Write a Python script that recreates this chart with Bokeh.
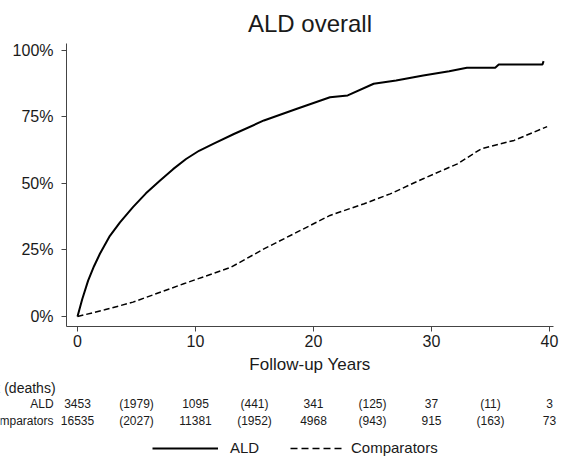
from bokeh.plotting import figure
from bokeh.layouts import column
from bokeh.core.properties import value
from bokeh.models import (ColumnDataSource, LabelSet, Label, Legend, LegendItem,
                          PrintfTickFormatter, FixedTicker, Range1d)
from bokeh.embed import file_html
from bokeh.resources import INLINE

# ---------------- data ----------------
ald_years = [0, 0.4, 0.9, 1.4, 1.9, 2.7, 3.6, 4.7, 5.8, 7.0, 8.1, 9.2, 10.3, 11.5,
             13.3, 15.8, 18.6, 21.4, 22.9, 25.1, 27.0, 29.3, 31.5, 33.0, 35.4,
             35.7, 39.4, 39.5]
ald_pct = [0, 6.5, 13.5, 18.9, 23.6, 30.0, 35.4, 41.1, 46.3, 51.1, 55.4, 59.2, 62.3, 64.9,
           68.7, 73.7, 78.1, 82.4, 83.1, 87.5, 88.7, 90.6, 92.2, 93.5, 93.5,
           94.7, 94.7, 96.0]

comp_years = [0, 2.3, 4.7, 9.0, 13.0, 15.8, 18.6, 21.4, 24.3, 26.5, 29.3, 32.2,
              34.2, 37.0, 39.8]
comp_pct = [0, 2.5, 5.4, 12.3, 18.5, 25.4, 31.7, 38.0, 42.4, 46.1, 51.8, 57.4,
            63.0, 66.2, 71.4]

risk_times = [0, 5, 10, 15, 20, 25, 30, 35, 40]
ald_risk = ["3453", "(1979)", "1095", "(441)", "341", "(125)", "37", "(11)", "3"]
comp_risk = ["16535", "(2027)", "11381", "(1952)", "4968", "(943)", "915", "(163)", "73"]

x_ticks = [0, 10, 20, 30, 40]
y_ticks = [0, 25, 50, 75, 100]

title_text = "ALD overall"
x_label = "Follow-up Years"
risk_header = "Number at risk (deaths)"
series_names = ["ALD", "Comparators"]

# ---------------- styling ----------------
FONT = "Liberation Sans"
TXT = "#1a1a1a"
W = 563

# ---------------- main plot ----------------
p = figure(width=W, height=376, output_backend="svg", toolbar_location=None,
           x_range=Range1d(-0.932, 40.34), y_range=Range1d(-3.76, 102.63),
           min_border_left=66, min_border_right=10, min_border_top=43,
           min_border_bottom=50, frame_width=487, frame_height=283)
p.frame_align = False
p.outline_line_color = None
p.xgrid.visible = False
p.ygrid.visible = False

p.title.text = title_text
p.title.align = "center"
p.title.offset = 1
p.title.text_font = FONT
p.title.text_font_size = "24px"
p.title.text_font_style = "normal"
p.title.text_color = TXT
p.title.standoff = 14

r_ald = p.line(ald_years, ald_pct, line_color="black", line_width=2)
r_comp = p.line(comp_years, comp_pct, line_color="black", line_width=1.5,
                line_dash="6 3")

for ax in (p.xaxis[0], p.yaxis[0]):
    ax.axis_line_color = "#444444"
    ax.major_tick_line_color = "#444444"
    ax.major_tick_out = 5
    ax.major_tick_in = 0
    ax.minor_tick_line_color = None
    ax.major_label_text_font = FONT
    ax.major_label_text_font_size = "16px"
    ax.major_label_text_color = TXT

p.xaxis.ticker = FixedTicker(ticks=x_ticks)
p.yaxis.ticker = FixedTicker(ticks=y_ticks)
p.yaxis.formatter = PrintfTickFormatter(format="%d%%")
p.yaxis.major_label_orientation = "horizontal"
p.yaxis.major_label_standoff = 8
p.xaxis.major_label_standoff = 3
p.xaxis.axis_label = x_label
p.xaxis.axis_label_text_font = FONT
p.xaxis.axis_label_text_font_size = "17px"
p.xaxis.axis_label_text_font_style = "normal"
p.xaxis.axis_label_text_color = TXT
p.xaxis.axis_label_standoff = 5

# ---------------- risk table + legend ----------------
p2 = figure(width=W, height=82, output_backend="svg", toolbar_location=None,
            x_range=Range1d(-6.525, 41.186), y_range=Range1d(82, 0),
            min_border_left=0, min_border_right=0, min_border_top=0,
            min_border_bottom=0)
p2.frame_align = False
p2.axis.visible = False
p2.xgrid.visible = False
p2.ygrid.visible = False
p2.outline_line_color = None

y_head, y_ald, y_comp = 11, 27, 44
p2.add_layout(Label(x=-1.86, y=y_head, text=risk_header, text_font=FONT,
                    text_font_size="14px", text_color=TXT, text_align="right",
                    text_baseline="middle"))
for name, yy in zip(series_names, (y_ald, y_comp)):
    p2.add_layout(Label(x=-2.03, y=yy, text=name, text_font=FONT,
                        text_font_size="12px", text_color=TXT, text_align="right",
                        text_baseline="middle"))

src_ald = ColumnDataSource(dict(x=risk_times, y=[y_ald] * len(risk_times), t=ald_risk))
src_comp = ColumnDataSource(dict(x=risk_times, y=[y_comp] * len(risk_times), t=comp_risk))
for src in (src_ald, src_comp):
    p2.add_layout(LabelSet(x="x", y="y", text="t", source=src, text_font=value(FONT),
                           text_font_size="12px", text_color=TXT,
                           text_align="center", text_baseline="middle"))

nan = float("nan")
d_ald = p2.line(x=[nan], y=[nan], line_color="black", line_width=2)
d_comp = p2.line(x=[nan], y=[nan], line_color="black", line_width=1.5,
                 line_dash="7 4")

leg_style = dict(orientation="horizontal", glyph_height=16, label_height=16,
                 padding=0, margin=0, border_line_color=None,
                 background_fill_alpha=0, label_text_font=FONT,
                 label_text_font_size="15px", label_text_color=TXT)
leg1 = Legend(items=[LegendItem(label=series_names[0], renderers=[d_ald])],
              location=(152, 2), glyph_width=66, label_standoff=12, **leg_style)
leg2 = Legend(items=[LegendItem(label=series_names[1], renderers=[d_comp])],
              location=(290, 2), glyph_width=54, label_standoff=7, **leg_style)
p2.add_layout(leg1, "center")
p2.add_layout(leg2, "center")

layout = column(p, p2, spacing=0)
open("out.html", "w").write(file_html(layout, INLINE))
